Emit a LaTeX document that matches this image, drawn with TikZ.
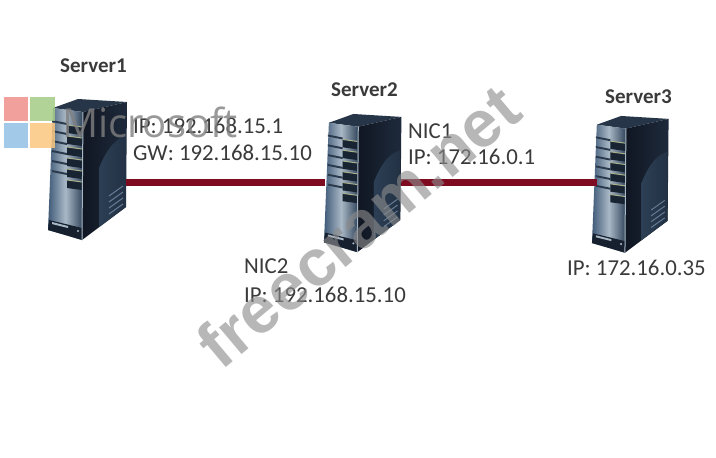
\documentclass[tikz,border=0pt]{standalone}
\usepackage{fontspec}
\setmainfont{Carlito}
\newfontfamily\wmfont{Liberation Sans}
\newfontfamily\msfont{Open Sans}
\definecolor{linkred}{HTML}{7E0B20}
\definecolor{txt}{HTML}{3A3A3A}
\definecolor{srvdark}{HTML}{101622}
\definecolor{srvmid}{HTML}{3F5A78}
\definecolor{srvlight}{HTML}{A9B8C6}
\definecolor{srvbar}{HTML}{2A3A4C}
\definecolor{srvbay}{HTML}{A8B08C}
\definecolor{msred}{HTML}{F0908A}
\definecolor{msgreen}{HTML}{A5CC85}
\definecolor{msblue}{HTML}{92C0E4}
\definecolor{msorange}{HTML}{FBC77F}
\tikzset{
  lbl/.style={font=\fontsize{22.8}{26}\selectfont, text=txt, anchor=base west, inner sep=0pt},
  srvname/.style={font=\fontsize{21}{25}\selectfont\bfseries, text=txt, anchor=base west, inner sep=0pt},
  portbox/.style={inner sep=0pt, minimum height=4pt},
  link/.style={draw=linkred, line width=7pt},
  wm/.style={font=\fontsize{66}{70}\selectfont\bfseries\wmfont, text=black!45, inner sep=0pt, text opacity=.62},
  mstile/.style={opacity=.85},
  server/.pic={
    \fill[srvmid!60!black] (6,10) -- (31,1) -- (80,4) -- (36,14) -- cycle;
    \shade[left color=srvdark, right color=srvdark!70!srvmid] (36,14) -- (80,4) -- (79,109) -- (35,142) -- cycle;
    \shade[left color=srvmid!70!black, right color=srvdark!60!srvmid] (52,70) .. controls (62,45) and (72,40) .. (79,38) -- (79,109) -- (52,129) -- cycle;
    \shade[left color=srvmid, right color=srvmid!75!black, middle color=srvlight] (6,10) -- (36,14) -- (35,142) -- (1,132) -- cycle;
    \fill[srvdark!85!srvmid] (2,122) -- (35,130) -- (35,142) -- (1,132) -- cycle;
    \fill[srvlight] (5,124) -- (21,128) -- (21,130) -- (5,126) -- cycle;
    \fill[srvlight] (31,133) circle (1.2);
    \foreach \y in {22,32,42,52,62,72}
      \fill[srvbar] (5,\y) -- (20,\y+3) -- (20,\y+5) -- (5,\y+2) -- cycle;
    \foreach \y in {27,38,49,60,71,82}{
      \fill[srvdark!80!srvmid] (20,\y) -- (35,\y+2) -- (35,\y+10) -- (20,\y+8) -- cycle;
      \draw[srvbay, line width=1pt] (20,\y) -- (35,\y+2);
    }
    \draw[srvlight, line width=1pt] (36,14) -- (35,142);
    \foreach \y in {88,94,100,106}
      \draw[srvmid!80!white, line width=1pt] (62,\y+10) -- (76,\y);
  }
}
\begin{document}
\begin{tikzpicture}[x=1pt,y=-1pt]
\useasboundingbox (0,0) rectangle (716,458);
\fill[white] (0,0) rectangle (716,458);

\node[portbox, minimum width=80pt] (s1) at (86,182) {};
\node[portbox, minimum width=76pt] (s2) at (363,182) {};
\node[portbox, minimum width=64pt] (s3) at (629,182) {};

\pic at (47,98) {server};
\pic[scale=.98] at (323,113) {server};
\pic[scale=.97] at (591,115) {server};

\draw[link] (s1.east) -- (s2.west);
\draw[link] (s2.east) -- (s3.west);

\node[srvname] (n1) at (60,72) {Server1};
\node[srvname] (n2) at (331,96) {Server2};
\node[srvname] (n3) at (605,103) {Server3};
\node[lbl] (t1) at (133,133) {IP: 192.168.15.1};
\node[lbl] (t2) at (133,160) {GW: 192.168.15.10};
\node[lbl] (t3) at (408,138) {NIC1};
\node[lbl] (t4) at (408,164) {IP: 172.16.0.1};
\node[lbl] (t5) at (244,273) {NIC2};
\node[lbl] (t6) at (244,302) {IP: 192.168.15.10};
\node[lbl] (t7) at (567,275) {IP: 172.16.0.35};

\fill[msred, mstile] (4,97) rectangle (28,121);
\fill[msgreen, mstile] (30,97) rectangle (55,121);
\fill[msblue, mstile] (4,123) rectangle (28,148);
\fill[msorange, mstile] (30,123) rectangle (55,148);
\node[font=\fontsize{40}{44}\selectfont\msfont, text=gray, text opacity=.8, anchor=base west, inner sep=0pt] (ms) at (62,137) {Microsoft};

\node[wm, rotate=40] (wm) at (358,226) {freecram.net};
\end{tikzpicture}
\end{document}
